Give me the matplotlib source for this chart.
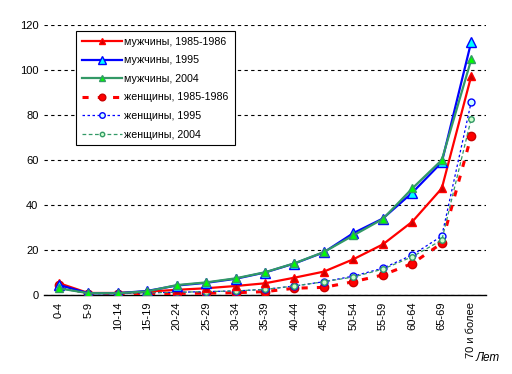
import matplotlib
matplotlib.use("Agg")
import matplotlib.pyplot as plt

plt.rcParams['font.family'] = ['Liberation Sans', 'DejaVu Sans']

ages = ["0-4", "5-9", "10-14", "15-19", "20-24", "25-29", "30-34", "35-39",
        "40-44", "45-49", "50-54", "55-59", "60-64", "65-69", "70 и более"]

men_1985 = [5.3, 0.9, 0.9, 1.5, 2.3, 3.0, 4.0, 5.2, 7.7, 10.4, 15.9, 22.5, 32.6, 47.4, 97.4]
men_1995 = [4.5, 0.8, 0.8, 1.8, 4.2, 5.4, 7.2, 10.0, 14.0, 19.0, 27.5, 34.0, 45.5, 59.0, 112.6]
men_2004 = [3.0, 0.8, 0.8, 1.6, 4.4, 5.6, 7.4, 10.1, 14.1, 19.1, 26.5, 33.8, 47.4, 60.0, 104.7]
women_1985 = [4.5, 0.5, 0.5, 0.5, 0.7, 0.8, 1.0, 1.5, 3.0, 3.4, 5.9, 8.9, 14.0, 23.0, 70.8]
women_1995 = [3.5, 0.6, 0.6, 1.0, 1.2, 1.5, 1.8, 2.5, 4.0, 5.9, 8.4, 11.9, 17.8, 26.2, 85.9]
women_2004 = [3.0, 0.6, 0.6, 1.0, 1.2, 1.5, 1.8, 2.5, 4.0, 5.9, 8.0, 11.5, 17.0, 24.4, 78.4]

x = list(range(len(ages)))

fig = plt.figure(figsize=(5.12, 3.74), dpi=100)
ax = fig.add_axes([44 / 512, 1 - 295 / 374, 442 / 512, 270 / 374])

ax.plot(x, men_1985, color='#FF0000', lw=1.6, marker='^', ms=6,
        mfc='#CC0000', mec='#FF0000', label='мужчины, 1985-1986', zorder=5)
ax.plot(x, men_1995, color='#0000FF', lw=1.6, marker='^', ms=7,
        mfc='#00FFFF', mec='#0000FF', label='мужчины, 1995', zorder=5)
ax.plot(x, men_2004, color='#339966', lw=1.6, marker='^', ms=6,
        mfc='#00FF00', mec='#339966', label='мужчины, 2004', zorder=6)
ax.plot(x, women_1985, color='#FF0000', lw=2.2, ls=(0, (2, 3)), marker='o', ms=6,
        mfc='#FF0000', mec='#CC0000', label='женщины, 1985-1986', zorder=4)
ax.plot(x, women_1995, color='#0000FF', lw=0.9, ls=(0, (2, 2)), marker='o', ms=5,
        mfc='#CCFFFF', mec='#0000FF', label='женщины, 1995', zorder=4)
ax.plot(x, women_2004, color='#339966', lw=0.9, ls=(0, (3, 2)), marker='o', ms=4,
        mfc='#CCFFCC', mec='#339966', label='женщины, 2004', zorder=4)

ax.set_xlim(-0.5, len(ages) - 0.5)
ax.set_ylim(0, 120)
ax.set_yticks(range(0, 121, 20))
ax.set_xticks(x)
ax.set_xticklabels(ages, rotation=90, fontsize=8)
ax.tick_params(axis='y', labelsize=8, length=0, pad=4)
ax.tick_params(axis='x', length=0, pad=5)
ax.yaxis.grid(True, color='black', ls=(0, (3, 3)), lw=0.8)
ax.set_axisbelow(True)
for s in ['left', 'right', 'top']:
    ax.spines[s].set_visible(False)
ax.spines['bottom'].set_color('black')
ax.spines['bottom'].set_linewidth(1)

leg = ax.legend(loc='upper left', bbox_to_anchor=(0.072, 0.978), borderaxespad=0,
                fontsize=7.7, frameon=True, fancybox=False, edgecolor='black',
                framealpha=1, handlelength=3.8, handletextpad=0.2, borderpad=0.55,
                labelspacing=0.8, markerscale=0.8)
leg.get_frame().set_linewidth(0.8)

fig.text(488 / 512, 1 - 358 / 374, 'Лет', fontsize=8.5, style='italic',
         ha='center', va='center')

fig.savefig('out.png', dpi=100)
